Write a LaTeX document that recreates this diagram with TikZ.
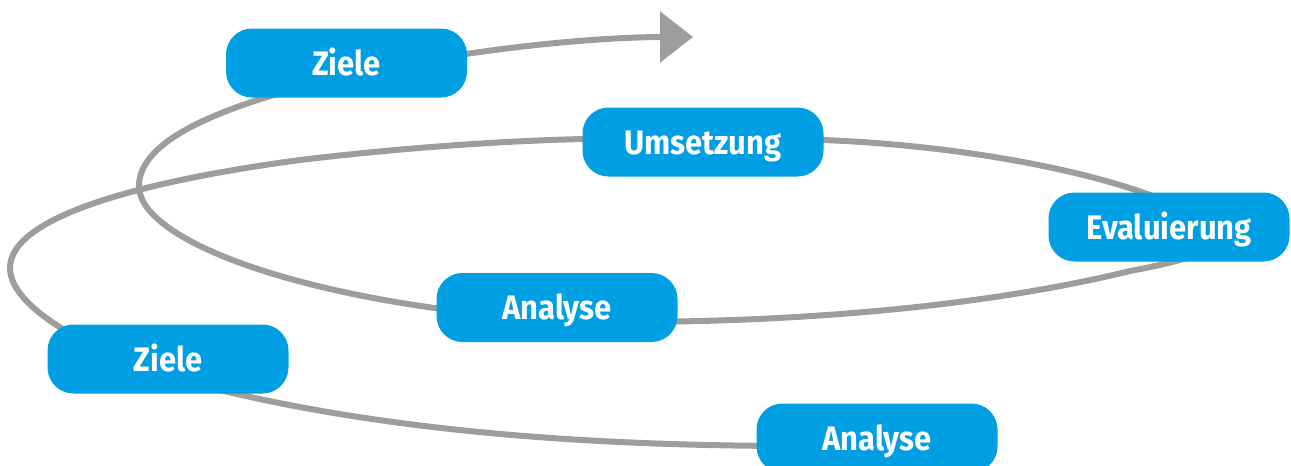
\documentclass[tikz,border=0pt]{standalone}
\usepackage{fontspec}
\newfontfamily\boxfont{Fira Sans Bold}[FakeStretch=0.91]
\usetikzlibrary{arrows.meta}
\definecolor{boxblue}{HTML}{009FE3}
\definecolor{spiralgray}{HTML}{9D9D9C}
\begin{document}
\begin{tikzpicture}[x=1pt,y=-1pt,
  stagebox/.style={draw=none,fill=boxblue,rounded corners=26pt,minimum width=241pt,minimum height=69pt,
    text=white,font=\boxfont\fontsize{34}{40}\selectfont,inner sep=0pt,text height=24pt,text depth=0pt},
  spiral/.style={draw=spiralgray,line width=6pt}]
\useasboundingbox (0,0) rectangle (1291,466);
% spiral path (drawn first, behind boxes)
\coordinate (s0) at (800,446);
\coordinate (s1) at (180,380);
\coordinate (s2) at (10,268);
\coordinate (s3) at (300,160);
\coordinate (s4) at (583,139);
\coordinate (s5) at (823,140);
\coordinate (s6) at (1215,227);
\coordinate (s6b) at (1130,271);
\coordinate (s8) at (620,322);
\coordinate (s9) at (139,186);
\coordinate (s10) at (350,75);
\coordinate (s11) at (660,37);
\coordinate (tip) at (693,37);
\draw[spiral]
  (s0) .. controls (520,446) and (330,420) .. (s1)
       .. controls (100,355) and (10,310) .. (s2)
       .. controls (10,215) and (150,180) .. (s3)
       .. controls (400,148) and (500,141) .. (s4)
       -- (s5)
       .. controls (980,146) and (1150,180) .. (s6)
       .. controls (1240,245) and (1190,260) .. (s6b)
       .. controls (1020,298) and (850,322) .. (s8)
       .. controls (360,318) and (139,250) .. (s9)
       .. controls (139,140) and (220,105) .. (s10)
       .. controls (430,57) and (560,38) .. (s11);
\draw[spiral,-{Triangle[length=33pt,width=50pt]}] (s11) -- (tip);
% boxes
\node[stagebox] (ziele1) at (346.5,63) {Ziele};
\node[stagebox] (umsetzung) at (703,142) {Umsetzung};
\node[stagebox] (evaluierung) at (1169,227) {Evaluierung};
\node[stagebox] (analyse1) at (557,307.5) {Analyse};
\node[stagebox] (ziele0) at (168,359) {Ziele};
\node[stagebox] (analyse0) at (877,438) {Analyse};
\end{tikzpicture}
\end{document}
